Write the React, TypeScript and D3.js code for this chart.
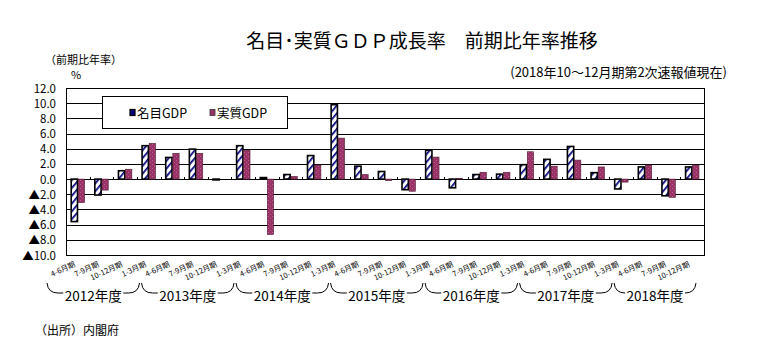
import * as d3 from 'd3';
import { useEffect, useRef } from 'react';

const quarters = [
  '4-6月期', '7-9月期', '10-12月期', '1-3月期',
  '4-6月期', '7-9月期', '10-12月期', '1-3月期',
  '4-6月期', '7-9月期', '10-12月期', '1-3月期',
  '4-6月期', '7-9月期', '10-12月期', '1-3月期',
  '4-6月期', '7-9月期', '10-12月期', '1-3月期',
  '4-6月期', '7-9月期', '10-12月期', '1-3月期',
  '4-6月期', '7-9月期', '10-12月期',
];
const fiscalYears = ['2012年度', '2013年度', '2014年度', '2015年度', '2016年度', '2017年度', '2018年度'];
const nominalGdp = [
  -5.6, -2.1, 1.1, 4.4,
  2.85, 3.95, -0.1, 4.4,
  0.2, 0.6, 3.1, 9.8,
  1.7, 1.0, -1.4, 3.8,
  -1.15, 0.6, 0.65, 1.9,
  2.6, 4.3, 0.85, -1.3,
  1.6, -2.2, 1.6,
];
const realGdp = [
  -3.1, -1.45, 1.3, 4.7,
  3.4, 3.4, 0.0, 3.8,
  -7.3, 0.35, 1.85, 5.4,
  0.6, -0.2, -1.6, 2.9,
  0.1, 0.9, 0.9, 3.6,
  1.7, 2.5, 1.6, -0.4,
  1.85, -2.4, 1.85,
];
const yTicks = [12, 10, 8, 6, 4, 2, 0, -2, -4, -6, -8, -10];

const FONT = '"Noto Sans CJK JP", "Noto Sans", sans-serif';

export default function App() {
  const ref = useRef<SVGSVGElement | null>(null);

  useEffect(() => {
    if (!ref.current) return;
    const svg = d3.select(ref.current);
    svg.selectAll('*').remove();

    const left = 66, right = 704, top = 88, bottom = 255;
    const x = d3.scaleBand<number>().domain(d3.range(quarters.length)).range([left, right]).padding(0);
    const y = d3.scaleLinear().domain([-10, 12]).range([bottom, top]);
    const bw = x.bandwidth();

    // patterns
    const defs = svg.append('defs');
    const stripes = defs
      .append('pattern')
      .attr('id', 'stripes')
      .attr('patternUnits', 'userSpaceOnUse')
      .attr('width', 5)
      .attr('height', 5)
      .attr('patternTransform', 'rotate(40)');
    stripes.append('rect').attr('width', 5).attr('height', 5).attr('fill', '#fff');
    stripes.append('rect').attr('width', 1.7).attr('height', 5).attr('fill', '#000080');

    const dots = defs
      .append('pattern')
      .attr('id', 'dots')
      .attr('patternUnits', 'userSpaceOnUse')
      .attr('width', 4)
      .attr('height', 4);
    dots.append('rect').attr('width', 4).attr('height', 4).attr('fill', '#993366');
    dots.append('rect').attr('x', 0).attr('y', 0).attr('width', 1).attr('height', 1).attr('fill', '#c0609a');
    dots.append('rect').attr('x', 2).attr('y', 2).attr('width', 1).attr('height', 1).attr('fill', '#b85590');

    // titles
    svg
      .append('text')
      .attr('x', 422)
      .attr('y', 48)
      .attr('text-anchor', 'middle')
      .attr('font-size', 19)
      .text('名目･実質ＧＤＰ成長率　前期比年率推移');
    svg
      .append('text')
      .attr('x', 727)
      .attr('y', 77)
      .attr('text-anchor', 'end')
      .attr('font-size', 13)
      .text('(2018年10～12月期第2次速報値現在)');
    svg.append('text').attr('x', 45).attr('y', 64).attr('font-size', 11).text('（前期比年率）');
    svg.append('text').attr('x', 71).attr('y', 79).attr('font-size', 11).text('%');

    // grid
    svg
      .append('g')
      .selectAll('line')
      .data(yTicks)
      .join('line')
      .attr('x1', left)
      .attr('x2', right)
      .attr('y1', (d) => Math.round(y(d)) + 0.5)
      .attr('y2', (d) => Math.round(y(d)) + 0.5)
      .attr('stroke', '#000')
      .attr('stroke-width', 1);

    svg
      .append('g')
      .selectAll('text')
      .data(yTicks)
      .join('text')
      .attr('x', 56)
      .attr('y', (d) => y(d) + 4.5)
      .attr('text-anchor', 'end')
      .attr('font-size', 11.5)
      .text((d) => (d < 0 ? '▲' : '') + Math.abs(d).toFixed(1));

    // small ticks on zero line
    svg
      .append('g')
      .selectAll('line')
      .data(d3.range(1, quarters.length))
      .join('line')
      .attr('x1', (i) => Math.round(x(i)!) + 0.5)
      .attr('x2', (i) => Math.round(x(i)!) + 0.5)
      .attr('y1', Math.round(y(0)) - 2)
      .attr('y2', Math.round(y(0)) + 0.5)
      .attr('stroke', '#000');

    // legend
    const lg = svg.append('g');
    lg.append('rect').attr('x', 102.5).attr('y', 96.5).attr('width', 185).attr('height', 32).attr('fill', '#fff').attr('stroke', '#000');
    lg.append('rect').attr('x', 130).attr('y', 109.5).attr('width', 5).attr('height', 6).attr('fill', '#000080').attr('stroke', '#000').attr('stroke-width', 1.2);
    lg.append('text').attr('x', 137).attr('y', 117.5).attr('font-size', 12.5).text('名目GDP');
    lg.append('rect').attr('x', 210).attr('y', 109.5).attr('width', 5).attr('height', 6).attr('fill', '#993366').attr('stroke', '#333').attr('stroke-width', 0.8);
    lg.append('text').attr('x', 217).attr('y', 117.5).attr('font-size', 12.5).text('実質GDP');

    // bars
    const idx = d3.range(quarters.length);
    svg
      .append('g')
      .selectAll('rect')
      .data(idx)
      .join('rect')
      .attr('x', (i) => x(i)! + 5.2)
      .attr('y', (i) => y(Math.max(0, nominalGdp[i])))
      .attr('width', 6.3)
      .attr('height', (i) => Math.max(0.8, Math.abs(y(nominalGdp[i]) - y(0))))
      .attr('fill', 'url(#stripes)')
      .attr('stroke', '#000')
      .attr('stroke-width', 1.6);
    svg
      .append('g')
      .selectAll('rect')
      .data(idx)
      .join('rect')
      .attr('x', (i) => x(i)! + 12.3)
      .attr('y', (i) => y(Math.max(0, realGdp[i])))
      .attr('width', 6.3)
      .attr('height', (i) => Math.abs(y(realGdp[i]) - y(0)))
      .attr('fill', 'url(#dots)')
      .attr('stroke', '#4a1a33')
      .attr('stroke-width', 0.6);

    // plot border
    svg
      .append('rect')
      .attr('x', left + 0.5)
      .attr('y', top + 0.5)
      .attr('width', right - left)
      .attr('height', bottom - top)
      .attr('fill', 'none')
      .attr('stroke', '#000');

    // quarter labels
    svg
      .append('g')
      .selectAll('text')
      .data(idx)
      .join('text')
      .attr('transform', (i) => `translate(${x(i)! + bw / 2 - 2},266) rotate(-25)`)
      .attr('text-anchor', 'end')
      .attr('font-size', 7.5)
      .text((i) => quarters[i]);

    // fiscal year brackets
    const by = 293;
    fiscalYears.forEach((fy, g) => {
      const first = g * 4;
      const last = Math.min(first + 3, quarters.length - 1);
      const x0 = x(first)! - 19;
      const x1 = g < fiscalYears.length - 1 ? x(last)! + bw - 21 : x(last)! + bw - 8;
      const cx = (x0 + x1) / 2;
      const half = 30;
      const gg = svg.append('g').attr('fill', 'none').attr('stroke', '#000').attr('stroke-width', 1);
      gg.append('path').attr('d', `M${x0},${by - 10} Q${x0 + 1},${by} ${x0 + 11},${by} L${Math.max(x0 + 11, cx - half)},${by}`);
      gg.append('path').attr('d', `M${Math.min(x1 - 11, cx + half)},${by} L${x1 - 11},${by} Q${x1 - 1},${by} ${x1},${by - 10}`);
      svg.append('text').attr('x', cx).attr('y', 301).attr('text-anchor', 'middle').attr('font-size', 13.5).text(fy);
    });

    svg.append('text').attr('x', 35).attr('y', 335).attr('font-size', 12).text('（出所）内閣府');
  }, []);

  return (
    <svg
      ref={ref}
      width={759}
      height={354}
      style={{ position: 'absolute', left: 0, top: 0, fontFamily: FONT, background: '#fff' }}
    />
  );
}
